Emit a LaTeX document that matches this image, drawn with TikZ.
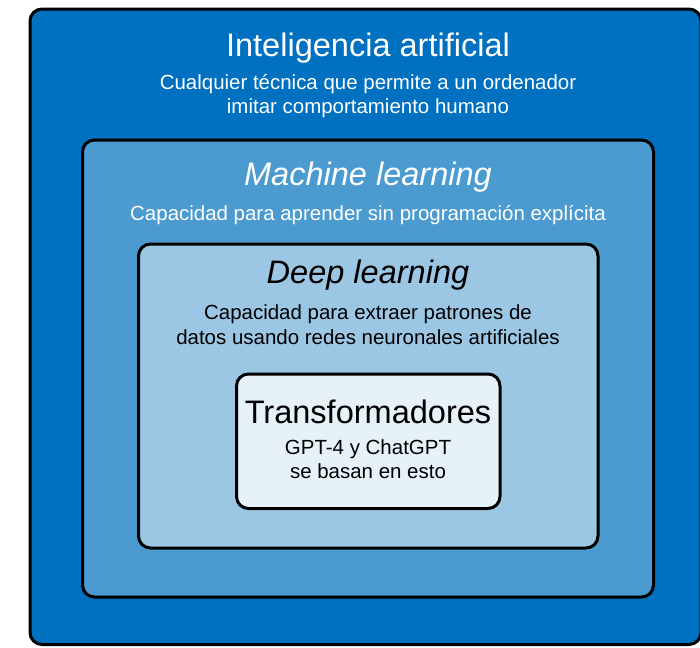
\documentclass[tikz,border=0pt]{standalone}
\usepackage{fontspec}
\setmainfont{Liberation Sans}
\usepackage{xcolor}
\definecolor{blue1}{HTML}{0070C0}
\definecolor{blue2}{HTML}{4B9BD0}
\definecolor{blue3}{HTML}{9BC6E4}
\definecolor{blue4}{HTML}{E6F1F8}

\tikzset{
  layer/.style={draw=black, line width=2.25pt, rounded corners=9pt},
  title/.style={anchor=base, inner sep=0pt, font=\fontsize{24.4}{28}\selectfont},
  desc/.style={anchor=base, inner sep=0pt, font=\fontsize{15.35}{18}\selectfont},
}

\begin{document}
\begin{tikzpicture}[x=0.75pt,y=-0.75pt]

\useasboundingbox (0,0) rectangle (700,647);
\clip (0,0) rectangle (700,647);

% nested fields
\draw[layer,fill=blue1] (30,9) rectangle (701,644.5);
\draw[layer,fill=blue2] (82.5,140) rectangle (653.5,597);
\draw[layer,fill=blue3] (138.5,244) rectangle (598,548);
\draw[layer,fill=blue4] (236.5,374) rectangle (500,508.5);

% Inteligencia artificial
\node[title,white] (ai) at (368,56) {Inteligencia artificial};
\node[desc,white] (ai1) at (368,89.3) {Cualquier técnica que permite a un ordenador};
\node[desc,white] (ai2) at (368,113.3) {imitar comportamiento humano};

% Machine learning
\node[title,white,font=\fontsize{24.4}{28}\selectfont\itshape] (ml) at (368,185) {Machine learning};
\node[desc,white] (ml1) at (368,220) {Capacidad para aprender sin programación explícita};

% Deep learning
\node[title,font=\fontsize{24.4}{28}\selectfont\itshape] (dl) at (368,283.3) {Deep learning};
\node[desc] (dl1) at (368,319.3) {Capacidad para extraer patrones de};
\node[desc] (dl2) at (368,344.5) {datos usando redes neuronales artificiales};

% Transformadores
\node[title] (tr) at (368,423.3) {Transformadores};
\node[desc] (tr1) at (368,454.3) {GPT-4 y ChatGPT};
\node[desc] (tr2) at (368,478.3) {se basan en esto};

\end{tikzpicture}
\end{document}
